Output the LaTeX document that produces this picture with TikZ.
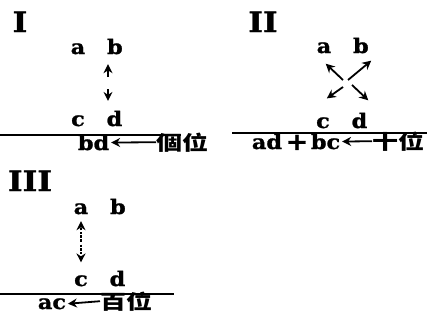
\documentclass[tikz,border=0pt]{standalone}
\usepackage{fontspec}
\setmainfont{DejaVu Serif}[FakeStretch=1.12,FakeBold=1.2]
\newfontfamily\cjk{Noto Sans CJK TC}[FakeStretch=1.3]
\usepackage{tikz}
\usetikzlibrary{arrows,arrows.meta,positioning}

\begin{document}
\begin{tikzpicture}[->,>={Stealth[length=9pt,width=9pt]},shorten >=1pt,x=1pt,y=-1pt,
                    line width=1.8pt,node distance=20pt]

  \tikzstyle{every node}=[font=\fontsize{20}{20}\selectfont\bfseries,
                          anchor=base,inner sep=0pt]
  \tikzstyle{digit}=[]
  \tikzstyle{place}=[font=\fontsize{20}{20}\selectfont\cjk\bfseries,anchor=base west]
  \tikzstyle{part}=[font=\fontsize{28}{28}\selectfont\bfseries]
  \tikzstyle{bar}=[-,line width=1.1pt]
  \tikzstyle{dots}=[dash pattern=on 2.5pt off 1.2pt]

  \useasboundingbox (0,0) rectangle (428,322);

  % I
  \node[part]  (P1)                    at (20,32)   {I};
  \node[digit] (a1)                    at (78,54)   {a};
  \node[digit] (b1) [base right=of a1]              {b};
  \node[digit] (c1)                    at (78,126)  {c};
  \node[digit] (d1) [base right=of c1]              {d};
  \coordinate  (m1)                    at (108,83);
  \draw[shorten <=6pt,shorten >=9pt] (m1) -- (m1 |- b1.south);
  \draw[shorten <=6pt,shorten >=9pt] (m1) -- (m1 |- d1.north);
  \draw[bar] (0,135) -- (182,135);
  \node[anchor=base west] (bd)         at (77,150)  {bd};
  \node[place] (units)                 at (156,150) {個位};
  \draw (units.west) -- (bd.east);

  % II
  \node[part]  (P2)                    at (263,32)  {II};
  \node[digit] (a2)                    at (324,53)  {a};
  \node[digit] (b2) [base right=of a2]              {b};
  \node[digit] (c2)                    at (323,128) {c};
  \node[digit] (d2) [base right=of c2]              {d};
  \coordinate  (ma) at (343,80); \coordinate (mb) at (348,80);
  \coordinate  (mc) at (343,87); \coordinate (md) at (352,85);
  \coordinate  (ta) at (325,63); \coordinate (tb) at (372,60);
  \coordinate  (tc) at (326,99); \coordinate (td) at (369,101);
  \draw (ma) -- (ta);
  \draw (mb) -- (tb);
  \draw (mc) -- (tc);
  \draw (md) -- (td);
  \draw[bar] (232,133) -- (428,133);
  \node[anchor=base west] (ad)         at (251,149) {ad};
  \node[font=\fontsize{24}{24}\selectfont\bfseries] (plus) at (297,150) {+};
  \node[anchor=base west] (bc)         at (310,149) {bc};
  \node[place] (tens)                  at (372,149) {十位};
  \draw (tens.west) -- (bc.east);

  % III
  \node[part]  (P3)                    at (30,191)  {III};
  \node[digit] (a3)                    at (81,214)  {a};
  \node[digit] (b3) [base right=of a3]              {b};
  \node[digit] (c3)                    at (81,286)  {c};
  \node[digit] (d3) [base right=of c3]              {d};
  \coordinate  (m3)                    at (81,243);
  \draw[dots,shorten <=1.5pt,shorten >=6pt] (m3) -- (a3.south);
  \draw[dots,shorten <=1.5pt,shorten >=12pt] (m3) -- (c3.north);
  \draw[bar] (0,294) -- (175,294);
  \node[anchor=base west] (ac)         at (37,309)  {ac};
  \node[place] (hundreds)              at (100,309) {百位};
  \draw (hundreds.west) -- (ac.east);
\end{tikzpicture}
\end{document}
